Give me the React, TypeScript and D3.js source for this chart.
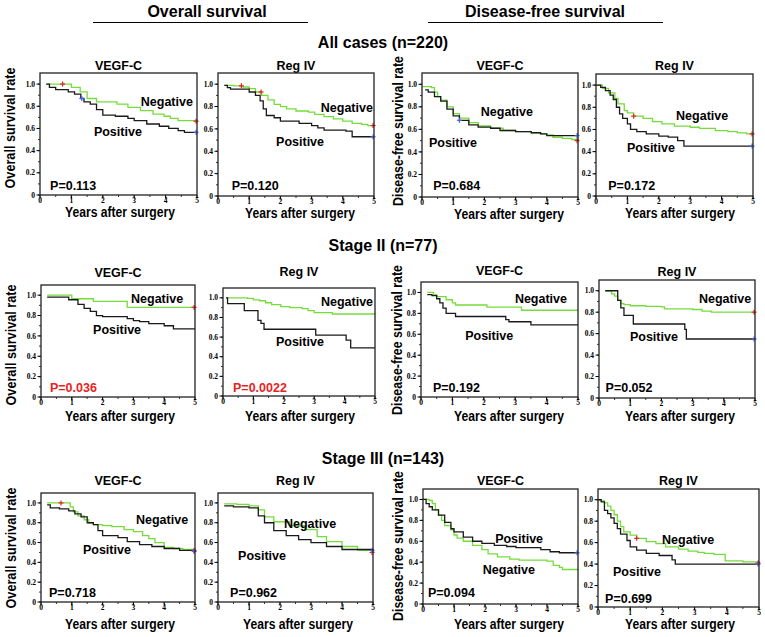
import React from "react";
import * as d3 from "d3";

type Pt = [number, number];

// ---- Kaplan-Meier step data, [years, survival] ----
const osAllVegfNeg: Pt[] = [[0.2, 1.0], [1.0, 0.97], [1.28, 0.93], [1.5, 0.87], [1.8, 0.84], [2.45, 0.82], [2.8, 0.79], [3.2, 0.76], [3.6, 0.73], [3.95, 0.71], [4.15, 0.69], [4.4, 0.67], [5, 0.665]];
const osAllVegfPos: Pt[] = [[0.2, 1.0], [0.3, 0.97], [0.5, 0.95], [0.9, 0.93], [1.1, 0.91], [1.3, 0.87], [1.4, 0.84], [1.6, 0.82], [1.8, 0.77], [2.0, 0.72], [2.4, 0.71], [2.8, 0.69], [3.0, 0.67], [3.4, 0.64], [3.8, 0.62], [4.1, 0.6], [4.4, 0.58], [4.6, 0.565], [5, 0.565]];
const osAllRegNeg: Pt[] = [[0.25, 0.99], [0.5, 0.985], [0.8, 0.975], [1.0, 0.96], [1.2, 0.93], [1.4, 0.9], [1.6, 0.86], [1.8, 0.82], [2.0, 0.8], [2.2, 0.78], [2.5, 0.76], [2.9, 0.75], [3.1, 0.73], [3.4, 0.71], [3.7, 0.69], [4.0, 0.67], [4.3, 0.65], [4.6, 0.64], [4.8, 0.63], [5, 0.63]];
const osAllRegPos: Pt[] = [[0.2, 0.99], [0.3, 0.97], [0.4, 0.955], [1.0, 0.93], [1.2, 0.9], [1.35, 0.85], [1.45, 0.78], [1.55, 0.72], [1.8, 0.7], [2.0, 0.67], [2.6, 0.65], [3.0, 0.63], [3.2, 0.61], [3.4, 0.59], [4.1, 0.58], [4.3, 0.53], [5, 0.53]];
const dfsAllVegfNeg: Pt[] = [[0, 0.98], [0.3, 0.97], [0.4, 0.93], [0.5, 0.89], [0.6, 0.86], [0.8, 0.8], [1.0, 0.74], [1.2, 0.7], [1.5, 0.66], [1.8, 0.63], [2.2, 0.61], [2.6, 0.59], [3.0, 0.58], [3.5, 0.57], [3.8, 0.56], [4.0, 0.55], [4.2, 0.53], [4.5, 0.52], [4.8, 0.51], [5, 0.5]];
const dfsAllVegfPos: Pt[] = [[0.1, 0.95], [0.2, 0.93], [0.4, 0.89], [0.6, 0.85], [0.8, 0.78], [1.0, 0.72], [1.2, 0.68], [1.5, 0.64], [1.8, 0.62], [2.2, 0.61], [2.5, 0.59], [3.0, 0.58], [3.5, 0.57], [3.8, 0.56], [4.0, 0.545], [5, 0.545]];
const dfsAllRegNeg: Pt[] = [[0, 1.0], [0.2, 0.97], [0.4, 0.93], [0.6, 0.88], [0.7, 0.83], [0.9, 0.77], [1.0, 0.75], [1.2, 0.72], [1.5, 0.7], [1.8, 0.67], [2.1, 0.65], [2.5, 0.63], [3.0, 0.62], [3.3, 0.61], [3.8, 0.59], [4.2, 0.58], [4.5, 0.57], [4.8, 0.56], [5, 0.56]];
const dfsAllRegPos: Pt[] = [[0, 1.0], [0.15, 0.98], [0.3, 0.95], [0.45, 0.91], [0.55, 0.87], [0.65, 0.8], [0.75, 0.74], [0.85, 0.7], [1.0, 0.65], [1.1, 0.6], [1.3, 0.58], [1.6, 0.56], [2.0, 0.54], [2.3, 0.53], [2.6, 0.5], [2.8, 0.45], [5, 0.45]];

const osS2VegfNeg: Pt[] = [[0.2, 1.0], [1.0, 0.965], [1.7, 0.94], [2.8, 0.88], [5, 0.88]];
const osS2VegfPos: Pt[] = [[0.2, 0.98], [0.9, 0.955], [1.2, 0.91], [1.4, 0.87], [1.6, 0.84], [1.8, 0.8], [2.0, 0.79], [2.8, 0.77], [3.0, 0.75], [3.2, 0.74], [3.5, 0.72], [4.0, 0.7], [4.3, 0.67], [5, 0.67]];
const osS2RegNeg: Pt[] = [[0.1, 1.0], [0.8, 0.995], [1.0, 0.98], [1.2, 0.97], [1.4, 0.95], [1.6, 0.93], [1.9, 0.91], [2.2, 0.9], [2.6, 0.89], [2.8, 0.87], [3.0, 0.85], [3.6, 0.835], [5, 0.83]];
const osS2RegPos: Pt[] = [[0.1, 1.0], [0.15, 0.94], [0.7, 0.87], [1.15, 0.77], [1.25, 0.74], [1.35, 0.68], [3.05, 0.62], [4.05, 0.57], [4.2, 0.49], [5, 0.49]];
const dfsS2VegfNeg: Pt[] = [[0.2, 1.0], [0.4, 0.98], [0.5, 0.96], [0.8, 0.93], [1.0, 0.9], [1.1, 0.88], [2.1, 0.86], [3.2, 0.83], [5, 0.83]];
const dfsS2VegfPos: Pt[] = [[0.2, 0.98], [0.35, 0.97], [0.5, 0.94], [0.6, 0.9], [0.7, 0.85], [0.8, 0.8], [1.1, 0.77], [2.7, 0.74], [2.8, 0.72], [3.5, 0.69], [5, 0.69]];
const dfsS2RegNeg: Pt[] = [[0.2, 1.0], [0.4, 0.97], [0.5, 0.95], [0.6, 0.91], [0.7, 0.88], [0.8, 0.87], [1.0, 0.86], [1.5, 0.855], [2.0, 0.85], [2.1, 0.83], [3.0, 0.825], [3.3, 0.81], [3.6, 0.8], [5, 0.8]];
const dfsS2RegPos: Pt[] = [[0.2, 1.0], [0.6, 0.91], [0.7, 0.84], [0.8, 0.77], [1.1, 0.69], [2.75, 0.64], [2.8, 0.55], [5, 0.55]];

const osS3VegfNeg: Pt[] = [[0.2, 1.0], [0.95, 0.96], [1.05, 0.91], [1.2, 0.87], [1.4, 0.83], [1.55, 0.8], [1.7, 0.78], [2.0, 0.77], [2.3, 0.76], [2.7, 0.73], [3.0, 0.71], [3.3, 0.67], [3.5, 0.64], [3.7, 0.6], [4.0, 0.55], [4.3, 0.54], [4.6, 0.53], [5, 0.52]];
const osS3VegfPos: Pt[] = [[0.2, 0.98], [0.3, 0.95], [0.6, 0.94], [0.9, 0.92], [1.1, 0.89], [1.3, 0.86], [1.5, 0.8], [1.7, 0.78], [1.85, 0.72], [2.0, 0.67], [2.5, 0.65], [2.8, 0.61], [3.2, 0.58], [3.6, 0.56], [4.0, 0.54], [4.5, 0.52], [5, 0.51]];
const osS3RegNeg: Pt[] = [[0.2, 0.99], [0.6, 0.985], [1.0, 0.97], [1.3, 0.93], [1.5, 0.86], [1.8, 0.81], [2.3, 0.77], [2.8, 0.73], [3.2, 0.66], [3.5, 0.61], [4.0, 0.56], [4.5, 0.52], [5, 0.5]];
const osS3RegPos: Pt[] = [[0.2, 0.97], [0.5, 0.96], [1.0, 0.95], [1.3, 0.87], [1.5, 0.8], [1.8, 0.72], [2.2, 0.67], [2.6, 0.63], [3.0, 0.6], [3.5, 0.56], [4.0, 0.53], [5, 0.52]];
const dfsS3VegfNeg: Pt[] = [[0, 1.0], [0.2, 0.99], [0.3, 0.96], [0.4, 0.9], [0.5, 0.85], [0.6, 0.8], [0.7, 0.75], [0.9, 0.71], [1.0, 0.66], [1.1, 0.63], [1.3, 0.6], [1.6, 0.56], [1.9, 0.52], [2.1, 0.48], [2.4, 0.45], [2.8, 0.43], [3.1, 0.42], [4.0, 0.41], [4.2, 0.37], [4.4, 0.35], [4.5, 0.33], [5, 0.32]];
const dfsS3VegfPos: Pt[] = [[0, 1.0], [0.1, 0.96], [0.2, 0.93], [0.3, 0.9], [0.5, 0.85], [0.7, 0.78], [0.9, 0.72], [1.0, 0.69], [1.3, 0.64], [1.6, 0.6], [1.9, 0.58], [2.3, 0.56], [2.7, 0.55], [3.0, 0.54], [3.8, 0.52], [4.1, 0.5], [4.4, 0.49], [5, 0.49]];
const dfsS3RegNeg: Pt[] = [[0, 1.0], [0.1, 0.99], [0.2, 0.97], [0.3, 0.94], [0.4, 0.9], [0.5, 0.86], [0.6, 0.8], [0.7, 0.75], [0.8, 0.7], [1.0, 0.67], [1.2, 0.64], [1.5, 0.61], [1.8, 0.59], [2.1, 0.56], [2.5, 0.54], [2.8, 0.52], [3.1, 0.51], [3.3, 0.5], [3.6, 0.49], [3.95, 0.43], [4.5, 0.42], [5, 0.41]];
const dfsS3RegPos: Pt[] = [[0, 1.0], [0.1, 0.98], [0.2, 0.9], [0.3, 0.87], [0.4, 0.83], [0.5, 0.78], [0.6, 0.73], [0.7, 0.68], [0.9, 0.62], [1.0, 0.56], [1.2, 0.53], [1.5, 0.5], [1.9, 0.48], [2.3, 0.44], [2.4, 0.4], [5, 0.4]];

// censoring ticks (years)
const marksAll = {
  osVegf: { neg: [0.72, 5], pos: [1.33, 5] },
  osReg: { neg: [0.75, 1.38, 5], pos: [5] },
  dfsVegf: { neg: [5], pos: [1.2, 5] },
  dfsReg: { neg: [1.2, 5], pos: [5] },
};

const pValues = ["0.113", "0.120", "0.684", "0.172", "0.036", "0.0022", "0.192", "0.052", "0.718", "0.962", "0.094", "0.699"];
const significant = [false, false, false, false, true, true, false, false, false, false, false, false];
const markerTitles = ["VEGF-C", "Reg IV"];
const yTickVals = [0, 0.2, 0.4, 0.6, 0.8, 1.0];
const xTickVals = [0, 1, 2, 3, 4, 5];

const GREEN = "#76dc3c";
const BLACK = "#1a1a1a";
const RED = "#e8231f";
const BLUE = "#4a63f0";
const SANS = "'Liberation Sans', Arial, Helvetica, sans-serif";
const SERIF = "'Liberation Serif', 'Times New Roman', serif";

interface PanelCfg {
  box: [number, number, number, number]; // left, right, top, bottom
  neg: Pt[];
  pos: Pt[];
  negMarks?: number[];
  posMarks?: number[];
  p: number;
  title: string;
  titleY: number;
  xLabel: [number, number];
  yLabel?: { text: string; x: number; cy: number; len: number };
  negLab: Pt;
  posLab: Pt;
  pLab: Pt;
}

const OSL = "Overall survival rate";
const DFSL = "Disease-free survival rate";

const panels: PanelCfg[] = [
  { box: [40, 197, 73, 195], neg: osAllVegfNeg, pos: osAllVegfPos, negMarks: marksAll.osVegf.neg, posMarks: marksAll.osVegf.pos, p: 0, title: markerTitles[0], titleY: 70, xLabel: [120, 217], yLabel: { text: OSL, x: 15, cy: 128, len: 121 }, negLab: [4.04, 0.8], posLab: [2.48, 0.53], pLab: [0.32, 0.045] },
  { box: [218, 374, 73, 196], neg: osAllRegNeg, pos: osAllRegPos, negMarks: marksAll.osReg.neg, posMarks: marksAll.osReg.pos, p: 1, title: markerTitles[1], titleY: 70, xLabel: [300, 218], negLab: [4.13, 0.75], posLab: [2.63, 0.45], pLab: [0.44, 0.054] },
  { box: [422, 578, 73, 197], neg: dfsAllVegfNeg, pos: dfsAllVegfPos, negMarks: marksAll.dfsVegf.neg, posMarks: marksAll.dfsVegf.pos, p: 2, title: markerTitles[0], titleY: 70, xLabel: [509, 219], yLabel: { text: DFSL, x: 403, cy: 131, len: 150 }, negLab: [2.72, 0.72], posLab: [0.99, 0.44], pLab: [0.36, 0.062] },
  { box: [596, 753, 74, 196], neg: dfsAllRegNeg, pos: dfsAllRegPos, negMarks: marksAll.dfsReg.neg, posMarks: marksAll.dfsReg.pos, p: 3, title: markerTitles[1], titleY: 70, xLabel: [680, 218], negLab: [3.38, 0.685], posLab: [1.75, 0.4], pLab: [0.39, 0.054] },

  { box: [41, 195, 285, 397], neg: osS2VegfNeg, pos: osS2VegfPos, negMarks: [5], p: 4, title: markerTitles[0], titleY: 277, xLabel: [120, 421], yLabel: { text: OSL, x: 16, cy: 345, len: 121 }, negLab: [3.77, 0.92], posLab: [2.47, 0.62], pLab: [0.29, 0.05] },
  { box: [223, 375, 288, 396], neg: osS2RegNeg, pos: osS2RegPos, p: 5, title: markerTitles[1], titleY: 276, xLabel: [300, 421], negLab: [4.08, 0.92], posLab: [2.53, 0.51], pLab: [0.33, 0.04] },
  { box: [421, 578, 282, 397], neg: dfsS2VegfNeg, pos: dfsS2VegfPos, p: 6, title: markerTitles[0], titleY: 275, xLabel: [509, 421], yLabel: { text: DFSL, x: 402, cy: 340, len: 150 }, negLab: [3.82, 0.9], posLab: [2.17, 0.545], pLab: [0.38, 0.05] },
  { box: [599, 755, 280, 398], neg: dfsS2RegNeg, pos: dfsS2RegPos, negMarks: [5], posMarks: [5], p: 7, title: markerTitles[1], titleY: 276, xLabel: [680, 421], negLab: [4.04, 0.885], posLab: [1.76, 0.53], pLab: [0.21, 0.056] },

  { box: [41, 195, 493, 602], neg: osS3VegfNeg, pos: osS3VegfPos, negMarks: [0.65, 5], posMarks: [5], p: 8, title: markerTitles[0], titleY: 485, xLabel: [120, 629], yLabel: { text: OSL, x: 16, cy: 548, len: 121 }, negLab: [3.93, 0.79], posLab: [2.14, 0.48], pLab: [0.26, 0.05] },
  { box: [218, 373, 493, 602], neg: osS3RegNeg, pos: osS3RegPos, negMarks: [5], posMarks: [5], p: 9, title: markerTitles[1], titleY: 485, xLabel: [298, 629], negLab: [2.97, 0.75], posLab: [1.42, 0.42], pLab: [0.39, 0.05] },
  { box: [423, 578, 489, 604], neg: dfsS3VegfNeg, pos: dfsS3VegfPos, posMarks: [5], p: 10, title: markerTitles[0], titleY: 485, xLabel: [509, 629], yLabel: { text: DFSL, x: 403, cy: 546, len: 150 }, negLab: [2.77, 0.29], posLab: [3.1, 0.58], pLab: [0.16, 0.07] },
  { box: [598, 759, 489, 607], neg: dfsS3RegNeg, pos: dfsS3RegPos, negMarks: [1.2, 5], posMarks: [5], p: 11, title: markerTitles[1], titleY: 485, xLabel: [680, 629], negLab: [2.8, 0.59], posLab: [1.21, 0.29], pLab: [0.22, 0.037] },
];

function valueAt(series: Pt[], t: number): number {
  let v = series[0][1];
  for (const [tt, s] of series) if (tt <= t) v = s;
  return v;
}

function Panel({ cfg }: { cfg: PanelCfg }) {
  const [l, r, t, b] = cfg.box;
  const x = d3.scaleLinear().domain([0, 5]).range([l, r]);
  const y = d3.scaleLinear().domain([0, 1.1]).range([b, t]);
  const line = d3.line<Pt>().x((d) => x(d[0])).y((d) => y(d[1])).curve(d3.curveStepAfter);
  const yMinor = d3.range(0, 1.05, 0.1);
  const xMinor = d3.range(0, 5.01, 0.5);
  const boldText = { fontFamily: SANS, fontWeight: 700 } as const;
  const cens = (series: Pt[], ts: number[] | undefined, color: string) =>
    (ts || []).map((tt, i) => {
      const cx = x(Math.min(tt, 4.97));
      const cy = y(valueAt(series, tt));
      return (
        <g key={color + i} stroke={color} strokeWidth={1.2}>
          <line x1={cx} x2={cx} y1={cy - 2.5} y2={cy + 2.5} />
          <line x1={cx - 2.5} x2={cx + 2.5} y1={cy} y2={cy} />
        </g>
      );
    });
  return (
    <g>
      <text x={(l + r) / 2} y={cfg.titleY} textAnchor="middle" fontSize={12.5} {...boldText}>{cfg.title}</text>
      {/* minor ticks */}
      {yMinor.map((v) => (
        <line key={"ym" + v} x1={l - 2} x2={l} y1={y(v)} y2={y(v)} stroke="#000" strokeWidth={0.8} />
      ))}
      {xMinor.map((v) => (
        <line key={"xm" + v} x1={x(v)} x2={x(v)} y1={b} y2={b + 2} stroke="#000" strokeWidth={0.8} />
      ))}
      {yTickVals.map((v) => (
        <g key={"yt" + v}>
          <line x1={l - 3.5} x2={l} y1={y(v)} y2={y(v)} stroke="#000" strokeWidth={1} />
          <text x={l - 5} y={y(v) + 2.6} textAnchor="end" fontSize={7.5} fontFamily={SERIF} fontWeight={700}>
            {v === 0 ? "0" : v.toFixed(1)}
          </text>
        </g>
      ))}
      {xTickVals.map((v) => (
        <g key={"xt" + v}>
          <line x1={x(v)} x2={x(v)} y1={b} y2={b + 3.5} stroke="#000" strokeWidth={1} />
          <text x={x(v)} y={b + 7.5} textAnchor="middle" fontSize={7.5} fontFamily={SERIF} fontWeight={700}>{v}</text>
        </g>
      ))}
      <path d={line(cfg.neg) || ""} fill="none" stroke={GREEN} strokeWidth={1.3} />
      <path d={line(cfg.pos) || ""} fill="none" stroke={BLACK} strokeWidth={1.3} />
      {cens(cfg.neg, cfg.negMarks, RED)}
      {cens(cfg.pos, cfg.posMarks, BLUE)}
      <rect x={l} y={t} width={r - l} height={b - t} fill="none" stroke="#222" strokeWidth={1.3} />
      <text x={x(cfg.negLab[0])} y={y(cfg.negLab[1])} textAnchor="middle" fontSize={12.5} {...boldText}>Negative</text>
      <text x={x(cfg.posLab[0])} y={y(cfg.posLab[1])} textAnchor="middle" fontSize={12.5} {...boldText}>Positive</text>
      <text x={x(cfg.pLab[0])} y={y(cfg.pLab[1])} fontSize={12.5} fill={significant[cfg.p] ? RED : "#000"} {...boldText}>
        P={pValues[cfg.p]}
      </text>
      <text
        x={cfg.xLabel[0]}
        y={cfg.xLabel[1]}
        textAnchor="middle"
        fontSize={14}
        textLength={110}
        lengthAdjust="spacingAndGlyphs"
        {...boldText}
      >
        Years after surgery
      </text>
      {cfg.yLabel && (
        <text
          transform={`translate(${cfg.yLabel.x},${cfg.yLabel.cy}) rotate(-90)`}
          textAnchor="middle"
          fontSize={14.5}
          textLength={cfg.yLabel.len}
          lengthAdjust="spacingAndGlyphs"
          {...boldText}
        >
          {cfg.yLabel.text}
        </text>
      )}
    </g>
  );
}

export default function App() {
  const hdr = { fontFamily: SANS, fontWeight: 700, fontSize: 16 } as const;
  return (
    <svg width={765} height={637} style={{ position: "absolute", left: 0, top: 0, background: "#fff" }}>
      <rect width={765} height={637} fill="#fff" />
      <text x={207} y={17} textAnchor="middle" {...hdr}>Overall survival</text>
      <line x1={93} x2={308} y1={22.5} y2={22.5} stroke="#000" strokeWidth={1} />
      <text x={545} y={17} textAnchor="middle" {...hdr}>Disease-free survival</text>
      <line x1={428} x2={663} y1={22.5} y2={22.5} stroke="#000" strokeWidth={1} />
      <text x={383} y={48} textAnchor="middle" {...hdr}>All cases (n=220)</text>
      <text x={383} y={251} textAnchor="middle" {...hdr}>Stage II (n=77)</text>
      <text x={383} y={464} textAnchor="middle" {...hdr}>Stage III (n=143)</text>
      {panels.map((p, i) => (
        <Panel key={i} cfg={p} />
      ))}
    </svg>
  );
}
